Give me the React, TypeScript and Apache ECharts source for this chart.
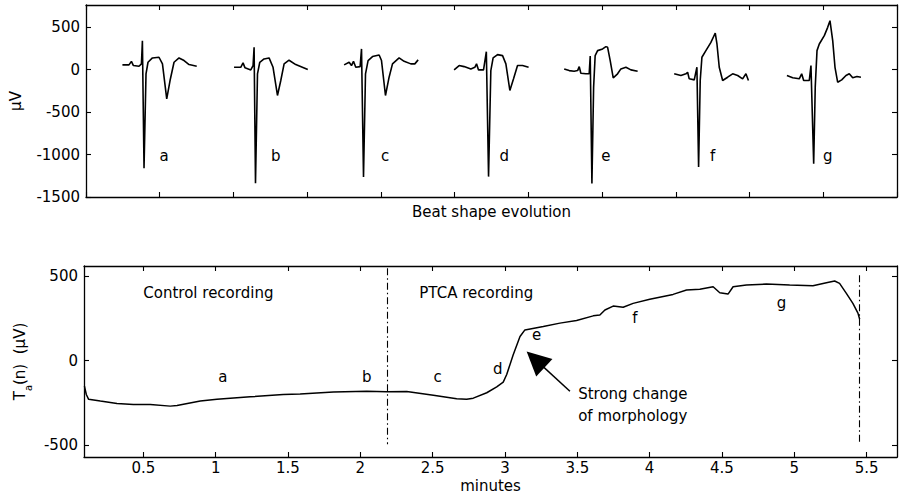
import React, { useEffect, useRef } from "react";
import * as echarts from "echarts";

// ---------- Top panel: beat shapes (x: arbitrary beat position, y: µV) ----------
const beatA: [number, number][] = [[0.494,55],[0.583,55],[0.616,97],[0.643,47],[0.719,39],[0.752,67],[0.765,340],[0.787,-1160],[0.814,-50],[0.841,86],[0.901,137],[0.990,145],[1.037,67],[1.095,-344],[1.140,-129],[1.194,86],[1.262,137],[1.330,106],[1.398,59],[1.502,39]];
const beatB: [number, number][] = [[2.008,27],[2.099,27],[2.130,79],[2.157,20],[2.235,-4],[2.266,47],[2.280,262],[2.299,-1338],[2.326,-50],[2.357,86],[2.415,125],[2.483,137],[2.537,27],[2.597,-305],[2.642,-129],[2.687,67],[2.754,110],[2.845,59],[3.008,0]];
const beatC: [number, number][] = [[3.501,55],[3.569,86],[3.601,47],[3.628,97],[3.659,27],[3.718,35],[3.737,243],[3.764,-1264],[3.791,-50],[3.826,106],[3.886,153],[3.976,172],[4.008,106],[4.062,-305],[4.111,-90],[4.157,67],[4.247,137],[4.315,97],[4.406,67],[4.460,67],[4.505,114]];
const beatD: [number, number][] = [[4.993,-4],[5.061,47],[5.129,35],[5.220,8],[5.274,27],[5.297,67],[5.324,-4],[5.392,-4],[5.430,210],[5.460,-1260],[5.491,-12],[5.522,137],[5.582,176],[5.650,164],[5.695,67],[5.749,-246],[5.799,-109],[5.853,47],[5.921,47],[6.003,27]];
const beatE: [number, number][] = [[6.486,8],[6.554,-12],[6.621,-20],[6.668,-12],[6.690,35],[6.712,-43],[6.780,-50],[6.825,-50],[6.839,160],[6.862,-1342],[6.885,-207],[6.906,164],[6.939,223],[7.007,243],[7.052,270],[7.075,262],[7.110,106],[7.151,-97],[7.210,-50],[7.255,8],[7.323,27],[7.391,-4],[7.482,-20]];
const beatF: [number, number][] = [[7.978,-50],[8.069,-70],[8.137,-50],[8.160,-32],[8.182,-109],[8.250,-121],[8.286,27],[8.309,-1147],[8.331,-129],[8.354,145],[8.408,223],[8.476,320],[8.535,430],[8.558,301],[8.589,27],[8.635,-129],[8.703,-90],[8.771,-50],[8.839,-70],[8.906,-109],[8.951,-50],[8.985,-129]];
const beatG: [number, number][] = [[9.507,-70],[9.585,-97],[9.674,-109],[9.707,-50],[9.734,-129],[9.810,-129],[9.833,47],[9.870,-1107],[9.891,-207],[9.915,223],[9.946,301],[10.014,399],[10.060,497],[10.091,575],[10.128,340],[10.159,27],[10.195,-149],[10.250,-121],[10.308,-70],[10.353,-50],[10.399,-97],[10.457,-82],[10.511,-90]];
const beats = [beatA, beatB, beatC, beatD, beatE, beatF, beatG];

const beatLetters = ["a", "b", "c", "d", "e", "f", "g"];
const beatLabelX = [1.058, 2.574, 4.057, 5.672, 7.052, 8.499, 10.06];
const beatLabelY = -1021;
const topYTicks = [-1500, -1000, -500, 0, 500];

// ---------- Bottom panel: T_a(n) trend over minutes ----------
const trendT = [0.093,0.106,0.122,0.203,0.318,0.431,0.548,0.686,0.733,0.894,1.009,1.239,1.467,1.584,1.814,2.045,2.183,2.321,2.505,2.666,2.735,2.781,2.874,2.943,2.988,3.012,3.057,3.104,3.138,3.265,3.380,3.495,3.610,3.656,3.691,3.748,3.817,3.886,4.001,4.162,4.255,4.347,4.439,4.485,4.542,4.577,4.669,4.807,4.968,5.129,5.222,5.279,5.313,5.360,5.405,5.440,5.452];
const trendV = [-151,-200,-229,-239,-253,-259,-259,-269,-265,-239,-229,-214,-200,-197,-186,-181,-184,-182,-204,-226,-229,-222,-190,-155,-127,-82,35,143,182,202,222,237,265,270,300,323,316,339,363,392,418,422,437,402,394,437,447,453,447,443,461,471,457,398,339,281,245];

const trendLabelT = [1.05, 2.045, 2.535, 2.95, 3.219, 3.898, 4.911];
const trendLabelV = [-98, -98, -98, -49, 153, 251, 343];

const bottomXTicks = [0.5, 1, 1.5, 2, 2.5, 3, 3.5, 4, 4.5, 5, 5.5];
const bottomYTicks = [-500, 0, 500];

// recording boundaries (minutes) and their vertical extent (µV)
const boundaryT = [2.185, 5.447];
const boundaryTop = [547, 506];
const boundaryBottom = -494;

// text annotations [minutes, µV]
const notes = [
  { text: "Control recording", t: 0.5, v: 398 },
  { text: "PTCA recording", t: 2.408, v: 398 },
  { text: "Strong change", t: 3.506, v: -200 },
  { text: "of morphology", t: 3.506, v: -328 },
];
const arrowFrom: [number, number] = [3.449, -181];
const arrowTo: [number, number] = [3.211, 6];

const FONT = "DejaVu Sans";
const FS = 15;
const BLACK = "#000";

function buildOption() {
  const axisLine = { show: true, onZero: false, lineStyle: { color: BLACK, width: 1.3 } };
  const tick = { show: true, inside: true, length: 5, lineStyle: { color: BLACK, width: 1.1 } };
  const lbl = { color: BLACK, fontFamily: FONT, fontSize: FS };

  const xAxis: any[] = [
    {
      gridIndex: 0, type: "value", min: 0, max: 11, interval: 1, position: "bottom",
      axisLine, axisTick: tick, axisLabel: { show: false }, splitLine: { show: false },
      name: "Beat shape evolution", nameLocation: "middle", nameGap: 7,
      nameTextStyle: { ...lbl, verticalAlign: "top" },
    },
    {
      gridIndex: 0, type: "value", min: 0, max: 11, interval: 1, position: "top",
      axisLine, axisTick: tick, axisLabel: { show: false }, splitLine: { show: false },
    },
    {
      gridIndex: 1, type: "value", min: 0.09, max: 5.71, position: "bottom",
      axisLine, axisTick: { ...tick, customValues: bottomXTicks },
      axisLabel: { ...lbl, margin: 3, customValues: bottomXTicks, formatter: (v: number) => String(v) },
      splitLine: { show: false },
      name: "minutes", nameLocation: "middle", nameGap: 21,
      nameTextStyle: { ...lbl, verticalAlign: "top" },
    },
    {
      gridIndex: 1, type: "value", min: 0.09, max: 5.71, position: "top",
      axisLine, axisTick: { ...tick, customValues: bottomXTicks }, axisLabel: { show: false },
      splitLine: { show: false },
    },
  ];

  const yAxis: any[] = [
    {
      gridIndex: 0, type: "value", min: -1500, max: 760, position: "left",
      axisLine, axisTick: { ...tick, customValues: topYTicks },
      axisLabel: { ...lbl, margin: 6, customValues: topYTicks, formatter: (v: number) => String(v) },
      splitLine: { show: false },
      name: "µV", nameLocation: "middle", nameGap: 63, nameRotate: 90,
      nameTextStyle: { ...lbl },
    },
    {
      gridIndex: 0, type: "value", min: -1500, max: 760, position: "right",
      axisLine, axisTick: { ...tick, customValues: topYTicks }, axisLabel: { show: false },
      splitLine: { show: false },
    },
    {
      gridIndex: 1, type: "value", min: -570, max: 560, position: "left",
      axisLine, axisTick: { ...tick, customValues: bottomYTicks },
      axisLabel: { ...lbl, margin: 6, customValues: bottomYTicks, formatter: (v: number) => String(v) },
      splitLine: { show: false },
      name: "{m|T}{s|a}{m|(n)  (µV)}", nameLocation: "middle", nameGap: 50, nameRotate: 90,
      nameTextStyle: {
        ...lbl,
        rich: {
          m: { fontFamily: FONT, fontSize: FS, color: BLACK, lineHeight: 26, verticalAlign: "middle" },
          s: { fontFamily: FONT, fontSize: 10, color: BLACK, lineHeight: 12, verticalAlign: "bottom" },
        },
      },
    },
    {
      gridIndex: 1, type: "value", min: -570, max: 560, position: "right",
      axisLine, axisTick: { ...tick, customValues: bottomYTicks }, axisLabel: { show: false },
      splitLine: { show: false },
    },
  ];

  const textLabel = { show: true, formatter: "{b}", opacity: 1, ...lbl };

  const series: any[] = [];
  beats.forEach((b, i) => {
    series.push({
      type: "line", name: "beat " + beatLetters[i], xAxisIndex: 0, yAxisIndex: 0,
      data: b, showSymbol: false, symbol: "none", silent: true,
      lineStyle: { color: BLACK, width: 1.6 },
    });
  });
  series.push({
    type: "scatter", xAxisIndex: 0, yAxisIndex: 0, symbolSize: 0, silent: true,
    itemStyle: { color: BLACK, opacity: 1 },
    data: beatLabelX.map((x, i) => ({ value: [x, beatLabelY], name: beatLetters[i] })),
    label: { ...textLabel, position: "inside" },
  });

  series.push({
    type: "line", name: "Ta", xAxisIndex: 2, yAxisIndex: 2,
    data: trendT.map((t, i) => [t, trendV[i]]),
    showSymbol: false, symbol: "none", silent: true,
    lineStyle: { color: BLACK, width: 1.5 },
    markLine: {
      silent: true, symbol: ["none", "none"], animation: false,
      label: { show: false },
      lineStyle: { color: BLACK, width: 1.1, type: [7, 3, 1.5, 3] },
      data: boundaryT.map((t, i) => [
        { coord: [t, boundaryTop[i]] },
        { coord: [t, boundaryBottom] },
      ]),
    },
  });
  series.push({
    type: "line", name: "arrow", xAxisIndex: 2, yAxisIndex: 2, data: [], silent: true,
    markLine: {
      silent: true, symbol: ["none", "triangle"], symbolSize: 24, animation: false,
      label: { show: false },
      lineStyle: { color: BLACK, width: 1.5, type: "solid" },
      itemStyle: { color: BLACK },
      data: [[{ coord: arrowFrom }, { coord: arrowTo }]],
    },
  });
  series.push({
    type: "scatter", xAxisIndex: 2, yAxisIndex: 2, symbolSize: 0, silent: true,
    itemStyle: { color: BLACK, opacity: 1 },
    data: trendLabelT.map((t, i) => ({ value: [t, trendLabelV[i]], name: beatLetters[i] })),
    label: { ...textLabel, position: "inside" },
  });
  series.push({
    type: "scatter", xAxisIndex: 2, yAxisIndex: 2, symbolSize: 0, silent: true,
    itemStyle: { color: BLACK, opacity: 1 },
    data: notes.map((n) => ({ value: [n.t, n.v], name: n.text })),
    label: { ...textLabel, position: [0, 0], align: "left", verticalAlign: "middle" },
  });

  return {
    animation: false,
    backgroundColor: "#fff",
    textStyle: { fontFamily: FONT },
    grid: [
      { left: 84, right: 3, top: 5, height: 192 },
      { left: 84, right: 3, top: 266, height: 192 },
    ],
    xAxis,
    yAxis,
    series,
  };
}

export default function App() {
  const ref = useRef<HTMLDivElement>(null);
  useEffect(() => {
    if (!ref.current) return;
    const chart = echarts.init(ref.current, undefined, { renderer: "svg" });
    chart.setOption(buildOption() as any);
    return () => chart.dispose();
  }, []);
  return (
    <div
      ref={ref}
      style={{ position: "absolute", left: 0, top: 0, width: 900, height: 494, background: "#fff" }}
    />
  );
}
